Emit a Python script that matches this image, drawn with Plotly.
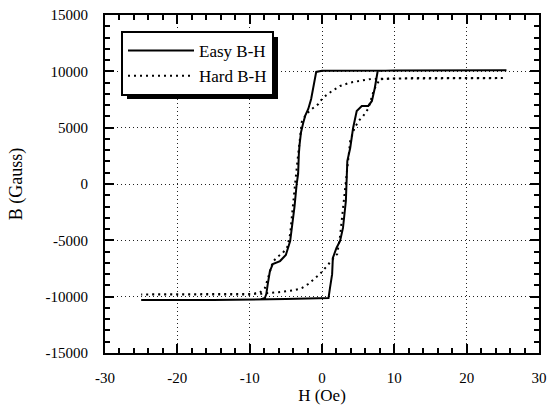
import plotly.graph_objects as go

# Easy B-H loop (descending then ascending branch)
easy_h_down = [25.5, 10, 2, 0, -0.8, -1.2, -1.5, -1.9, -2.3, -2.6, -2.9, -3.1, -3.2, -3.3, -3.5, -3.8,
               -4.1, -4.4, -5.0, -5.8, -6.8, -7.2, -7.5, -7.7, -7.9, -8.5, -15, -25]
easy_b_down = [10100, 10100, 10080, 10060, 9950, 8700, 7550, 6660, 6100, 5420, 4600, 3500, 2660, 890, 0, -2000,
               -3700, -5060, -6300, -6840, -7100, -7730, -8880, -9770, -10120, -10250, -10300, -10300]
easy_h_up = [-25, -15, -5, 0, 0.9, 1.1, 1.4, 1.5, 2.0, 2.5, 2.9, 3.3, 3.4, 3.5, 3.9, 4.3, 4.8, 5.5,
             6.4, 6.9, 7.3, 7.6, 7.7, 10, 20, 25.5]
easy_b_up = [-10300, -10300, -10200, -10150, -10120, -9240, -8000, -6570, -5680, -5060, -3900, -1510, 0, 2040,
             3200, 4970, 6480, 6930, 6930, 7370, 8520, 9860, 10030, 10080, 10100, 10100]

# Hard B-H loop
hard_h_down = [25, 15, 8, 6.5, 5, 3.9, 2.5, 1.4, 0.1, -0.5, -1.4, -2.2, -2.8, -3.1, -3.4, -3.8, -4.1, -4.4,
               -4.8, -5.4, -6.2, -6.8, -7.5, -7.9, -8.6, -10, -18, -25]
hard_b_down = [9400, 9400, 9350, 9300, 9150, 9000, 8700, 8260, 7640, 7100, 6660, 6200, 5500, 4000, 2000, -500,
               -2400, -4440, -5600, -6100, -6500, -6900, -8440, -9240, -9650, -9800, -9800, -9800]
hard_h_up = [-25, -15, -8.6, -6, -4, -2.8, -1.9, -0.3, 0.4, 1.2, 2.1, 2.5, 3.0, 3.6, 3.9, 4.5, 5.2, 5.7,
             6.4, 7.2, 8, 12, 25]
hard_b_up = [-9800, -9800, -9750, -9600, -9450, -9240, -8880, -8000, -7460, -6900, -6220, -4620, -1500, 2300,
             3820, 5000, 5700, 6040, 6700, 8400, 9300, 9400, 9400]

x_ticks = [-30, -20, -10, 0, 10, 20, 30]
y_ticks = [-15000, -10000, -5000, 0, 5000, 10000, 15000]

serif = "Liberation Serif, Times New Roman, serif"

L, R, T, B = 105, 539, 15, 353
PW, PH = R - L, B - T

fig = go.Figure()
fig.add_trace(go.Scatter(x=easy_h_down + easy_h_up, y=easy_b_down + easy_b_up, mode="lines",
                         name="Easy B-H", line=dict(color="black", width=2)))
fig.add_trace(go.Scatter(x=hard_h_down + hard_h_up, y=hard_b_down + hard_b_up, mode="lines",
                         name="Hard B-H", line=dict(color="black", width=2, dash="2px,4px")))

axis_common = dict(
    automargin=False,
    showline=True, linecolor="black", linewidth=2, mirror="ticks",
    ticks="inside", ticklen=9, tickwidth=1.5, tickcolor="black",
    showgrid=True, gridcolor="#222", griddash="1px,3px", gridwidth=1,
    zeroline=False,
    tickfont=dict(family=serif, size=15, color="black"),
)

fig.update_xaxes(range=[-30, 30], tickvals=x_ticks, ticktext=[str(v) for v in x_ticks],
                 minor=dict(dtick=2, ticks="inside", ticklen=5, tickcolor="black", showgrid=False),
                 ticklabelstandoff=10,
                 title=dict(text="H (Oe)", font=dict(family=serif, size=17, color="black"), standoff=3),
                 **axis_common)
fig.update_yaxes(range=[-15000, 15000], tickvals=y_ticks, ticktext=[str(v) for v in y_ticks],
                 minor=dict(dtick=1000, ticks="inside", ticklen=5, tickcolor="black", showgrid=False),
                 ticklabelstandoff=12,
                 title=dict(text="B (Gauss)", font=dict(family=serif, size=18, color="black"), standoff=18),
                 **axis_common)

# legend drop shadow
fig.add_shape(type="rect", xref="paper", yref="paper",
              x0=(127 - L) / PW, x1=(278 - L) / PW,
              y0=1 - (99 - T) / PH, y1=1 - (37 - T) / PH,
              fillcolor="black", line=dict(width=0), layer="above")

fig.update_layout(
    width=555, height=408,
    margin=dict(l=L, r=555 - R, t=T, b=408 - B, autoexpand=False),
    paper_bgcolor="white", plot_bgcolor="white",
    showlegend=True,
    legend=dict(x=(121 - L) / PW, y=1 - (31 - T) / PH, xanchor="left", yanchor="top",
                bgcolor="white", bordercolor="black", borderwidth=2,
                font=dict(family=serif, size=17, color="black"),
                itemwidth=66, tracegroupgap=0),
)

fig.write_html("out.html", config={"displayModeBar": False},
               post_script="document.body.style.margin='0';")
